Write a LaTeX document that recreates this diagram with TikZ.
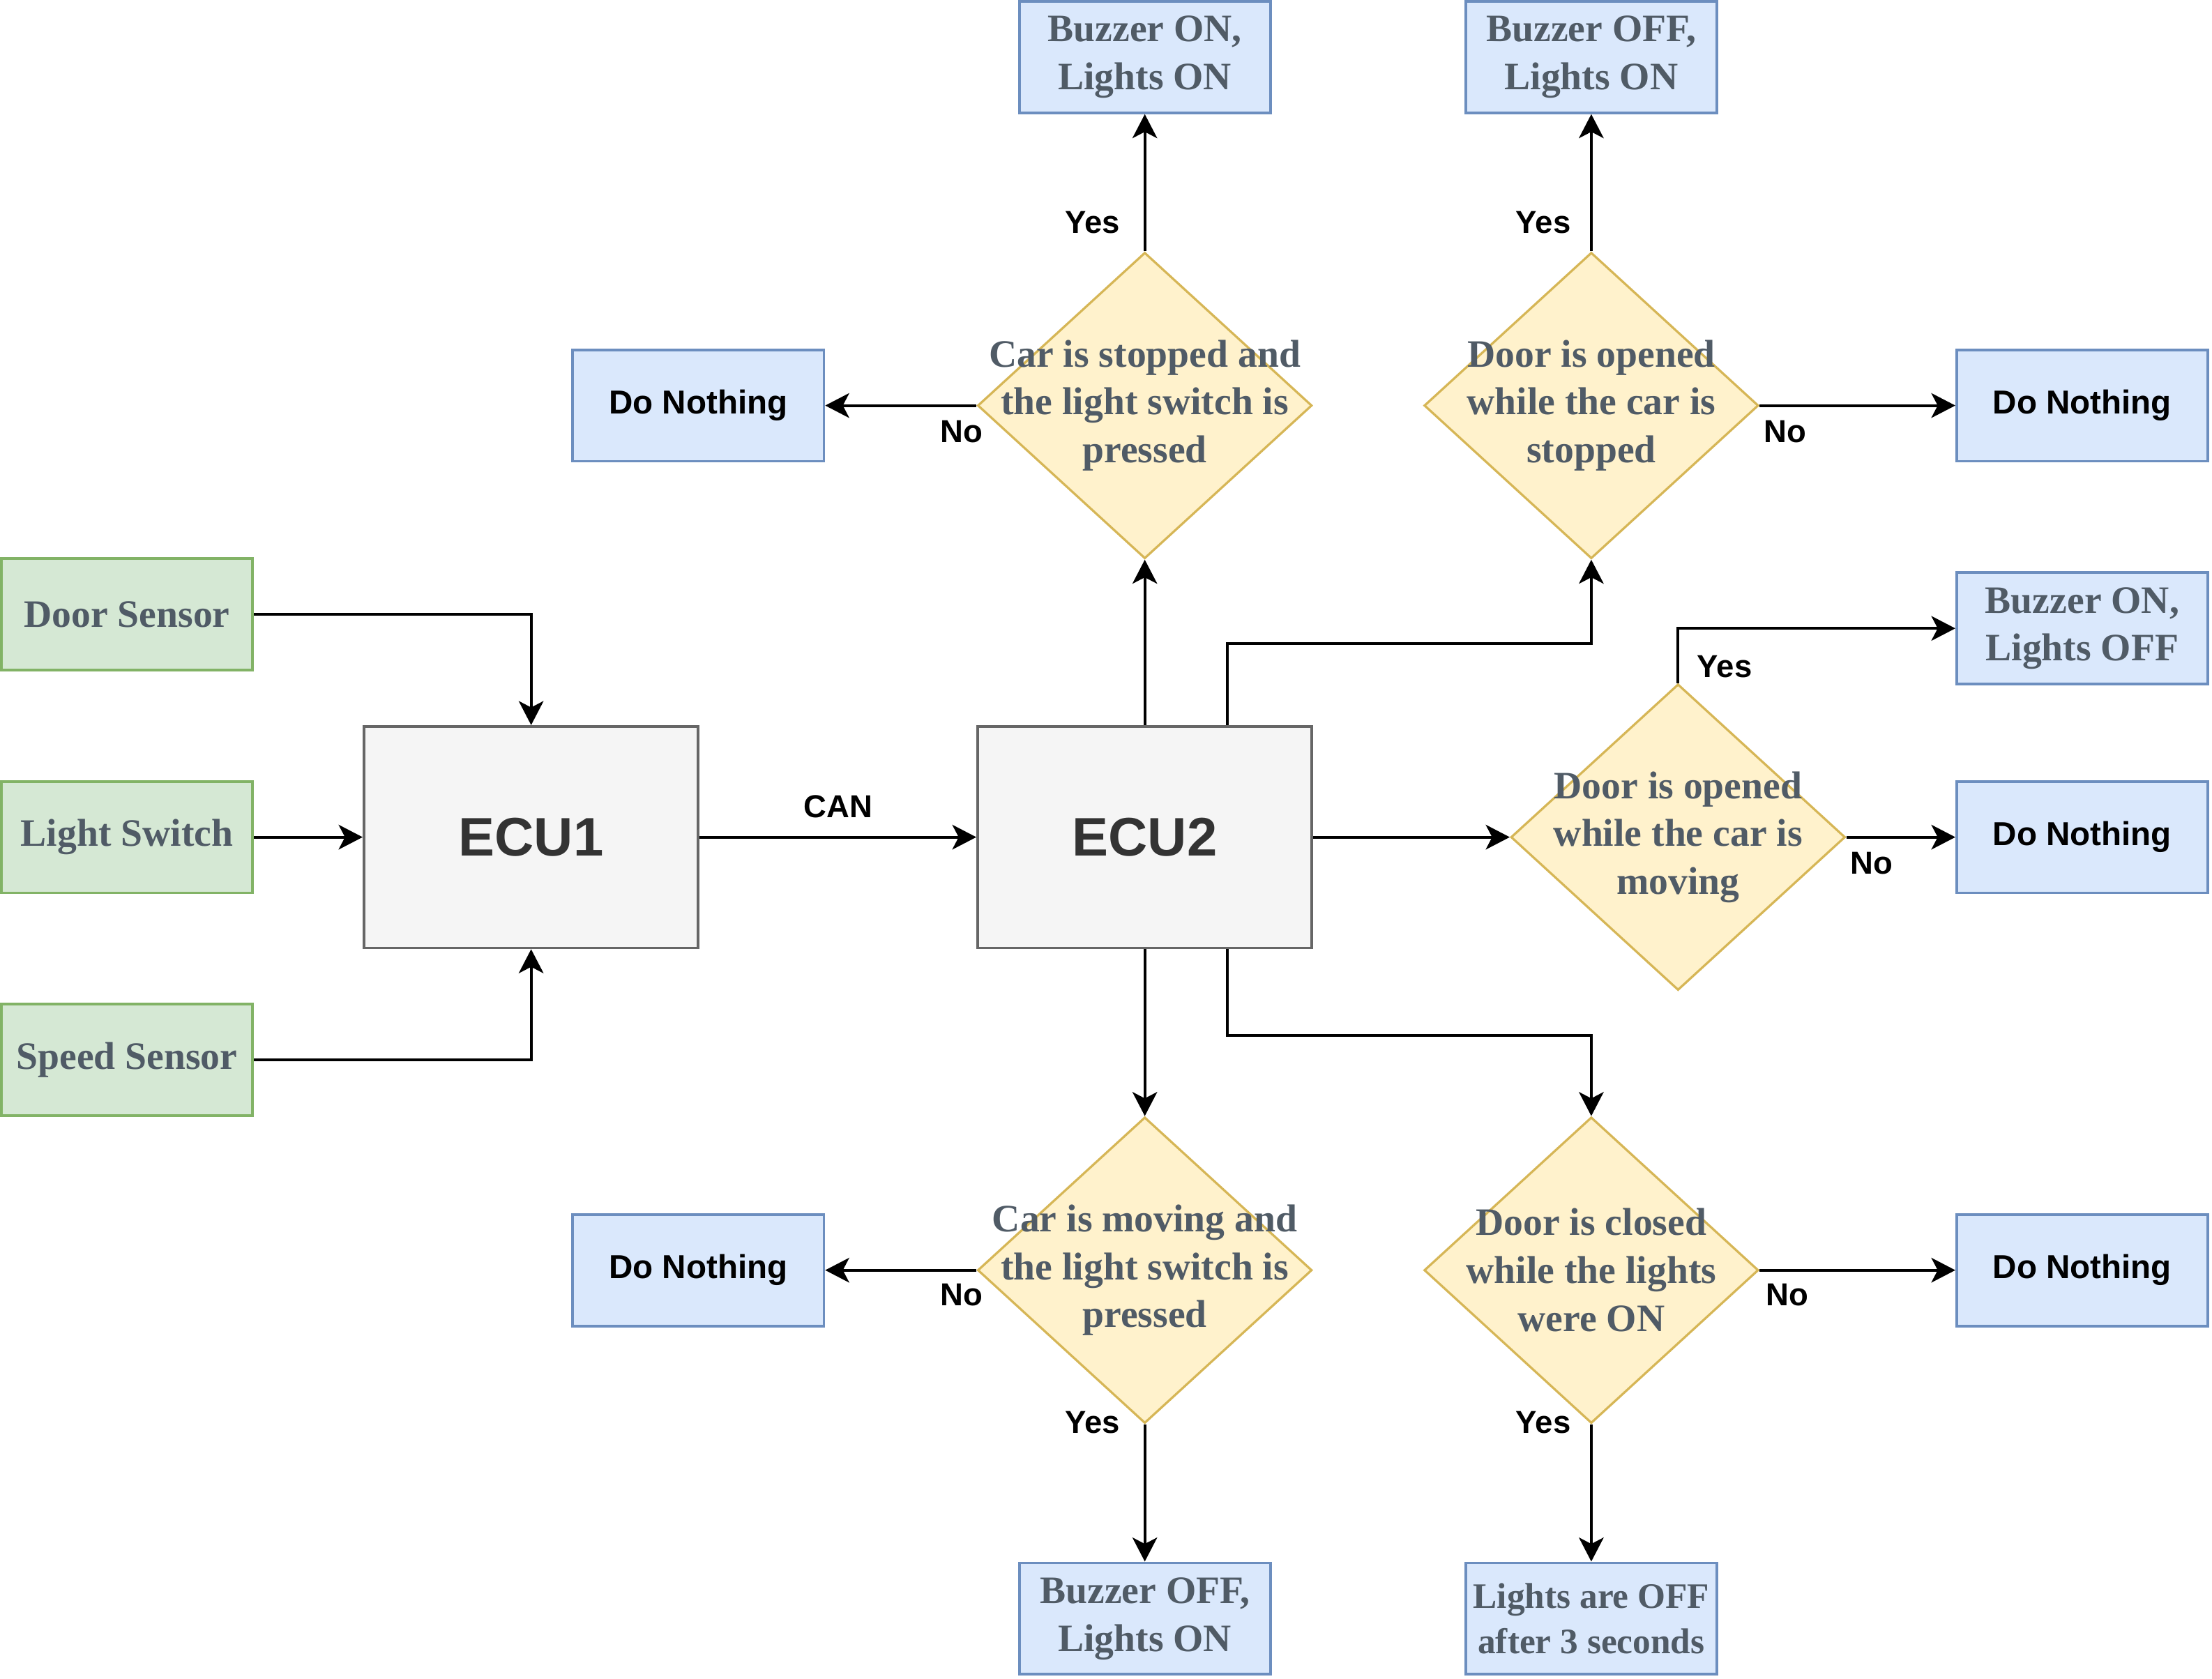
\documentclass[tikz,border=0pt]{standalone}
\usepackage{fontspec}
\setmainfont{Liberation Serif}
\newfontfamily\lsans{Liberation Sans}
\usetikzlibrary{shapes.geometric,arrows.meta,calc}
\definecolor{sgreen}{HTML}{82B366}
\definecolor{fgreen}{HTML}{D5E8D4}
\definecolor{sblue}{HTML}{6C8EBF}
\definecolor{fblue}{HTML}{DAE8FC}
\definecolor{syellow}{HTML}{D6B656}
\definecolor{fyellow}{HTML}{FFF2CC}
\definecolor{ecustroke}{HTML}{666666}
\definecolor{ecufill}{HTML}{F5F5F5}
\definecolor{ecutext}{HTML}{333333}
\definecolor{tgray}{HTML}{505B66}
\newcommand{\serifbig}{\bfseries\fontsize{27.5}{34}\selectfont}
\newcommand{\serifsmall}{\bfseries\fontsize{25.4}{32}\selectfont}
\tikzset{
  box/.style={draw, line width=1.9pt, minimum width=178pt, minimum height=79pt, inner sep=0pt, align=center},
  sensor/.style={box, draw=sgreen, fill=fgreen, font=\serifbig, text=tgray},
  outbox/.style={box, draw=sblue, fill=fblue, font=\serifbig, text=tgray},
  nothing/.style={box, draw=sblue, fill=fblue, font=\lsans\bfseries\fontsize{23.5}{28}\selectfont, text=black},
  ecu/.style={draw=ecustroke, fill=ecufill, line width=1.9pt, minimum width=237pt, minimum height=157pt, inner sep=0pt, font=\lsans\bfseries\fontsize{38.5}{44}\selectfont, text=ecutext},
  dia/.style={diamond, draw=syellow, fill=fyellow, line width=1.6pt, minimum width=237pt, minimum height=217pt, inner sep=0pt},
  dtext/.style={font=\serifbig, text=tgray, align=center, inner sep=0pt},
  lbl/.style={font=\lsans\bfseries\fontsize{22.5}{27}\selectfont, text=black, inner sep=0pt},
  arr/.style={-{Stealth[length=17pt,width=17.5pt,inset=4.5pt]}, line width=2pt, black},
}
\begin{document}
\begin{tikzpicture}[x=1pt,y=-1pt]
\useasboundingbox (0,0) rectangle (1568,1190.3);
% sensors
\node[sensor] (ds) at (90,435.5) {Door Sensor};
\node[sensor] (ls) at (90,593.5) {Light Switch};
\node[sensor] (ss) at (90,751.5) {Speed Sensor};
% ECUs
\node[ecu] (ecu1) at (376.5,593.5) {ECU1};
\node[ecu] (ecu2) at (811.5,593.5) {ECU2};
% diamonds
\node[dia] (d1) at (811.5,287.5) {};
\node[dtext] at (d1) {Car is stopped and\\the light switch is\\pressed};
\node[dia] (d2) at (1128,287.5) {};
\node[dtext] at (d2) {Door is opened\\while the car is\\stopped};
\node[dia] (d3) at (1189.5,593.5) {};
\node[dtext] at (d3) {Door is opened\\while the car is\\moving};
\node[dia] (d4) at (811.5,900.5) {};
\node[dtext] at (d4) {Car is moving and\\the light switch is\\pressed};
\node[dia] (d5) at (1128,900.5) {};
\node[dtext] at (d5) {Door is closed\\while the lights\\were ON};
% outputs
\node[outbox] (o1) at (811.5,40.5) {Buzzer ON,\\Lights ON};
\node[outbox] (o2) at (1128,40.5) {Buzzer OFF,\\Lights ON};
\node[outbox] (o3) at (1476,445.5) {Buzzer ON,\\Lights OFF};
\node[outbox] (o4) at (811.5,1147.5) {Buzzer OFF,\\Lights ON};
\node[outbox, font=\serifsmall] (o5) at (1128,1147.5) {Lights are OFF\\after 3 seconds};
\node[nothing] (n1) at (495,287.5) {Do Nothing};
\node[nothing] (n2) at (1476,287.5) {Do Nothing};
\node[nothing] (n3) at (1476,593.5) {Do Nothing};
\node[nothing] (n4) at (495,900.5) {Do Nothing};
\node[nothing] (n5) at (1476,900.5) {Do Nothing};
% inputs to ECU1
\draw[arr] (ds.east) -| (ecu1.north);
\draw[arr] (ls.east) -- (ecu1.west);
\draw[arr] (ss.east) -| (ecu1.south);
\draw[arr] (ecu1.east) -- node[lbl, midway, yshift=21.5pt] {CAN} (ecu2.west);
% ECU2 outputs
\draw[arr] (ecu2.north) -- (d1.south);
\draw[arr] ($(ecu2.north)+(58.5,0)$) -- ++(0,-58) -| (d2.south);
\draw[arr] (ecu2.east) -- (d3.west);
\draw[arr] (ecu2.south) -- (d4.north);
\draw[arr] ($(ecu2.south)+(58.5,0)$) -- ++(0,61) -| (d5.north);
% decisions
\draw[arr] (d1.north) -- node[lbl, pos=0.21, xshift=-37pt] {Yes} (o1.south);
\draw[arr] (d1.west) -- node[lbl, pos=0.1, yshift=-18.5pt] {No} (n1.east);
\draw[arr] (d2.north) -- node[lbl, pos=0.21, xshift=-34pt] {Yes} (o2.south);
\draw[arr] (d2.east) -- node[lbl, pos=0.13, yshift=-18.5pt] {No} (n2.west);
\draw[arr] (d3.north) |- node[lbl, pos=0.15, xshift=33pt] {Yes} (o3.west);
\draw[arr] (d3.east) -- node[lbl, pos=0.23, yshift=-18.5pt] {No} (n3.west);
\draw[arr] (d4.west) -- node[lbl, pos=0.1, yshift=-17.5pt] {No} (n4.east);
\draw[arr] (d4.south) -- node[lbl, pos=0.0, xshift=-37pt, yshift=1.5pt] {Yes} (o4.north);
\draw[arr] (d5.east) -- node[lbl, pos=0.14, yshift=-17.5pt] {No} (n5.west);
\draw[arr] (d5.south) -- node[lbl, pos=0.0, xshift=-34pt, yshift=1.5pt] {Yes} (o5.north);
\end{tikzpicture}
\end{document}
